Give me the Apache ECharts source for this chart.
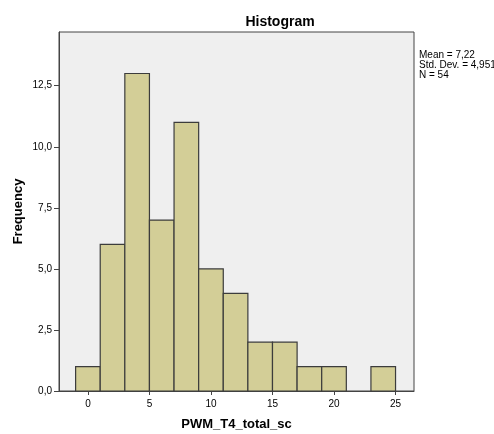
<!DOCTYPE html>
<html>
<head>
<meta charset="utf-8">
<script src="https://cdn.jsdelivr.net/npm/echarts@6/dist/echarts.min.js"></script>
<style>
html, body { margin: 0; padding: 0; background: #fff; }
#main { width: 494px; height: 434px; }
</style>
</head>
<body>
<div id="main"></div>
<script>
// bin edges (width 2) and counts
var binStart = [-1, 1, 3, 5, 7, 9, 11, 13, 15, 17, 19, 21, 23];
var binEnd   = [1, 3, 5, 7, 9, 11, 13, 15, 17, 19, 21, 23, 25];
var counts   = [1, 6, 13, 7, 11, 5, 4, 2, 2, 1, 1, 0, 1];
var xTicks   = [0, 5, 10, 15, 20, 25];
var yTicks   = [0, 2.5, 5, 7.5, 10, 12.5];
var statLines = ['Mean = 7,22', 'Std. Dev. = 4,951', 'N = 54'];

var chart = echarts.init(document.getElementById('main'));

var data = binStart.map(function (s, i) {
    return [s, binEnd[i], counts[i]];
});

function commaFmt(v) {
    return v.toFixed(1).replace('.', ',');
}

var option = {
    backgroundColor: '#fff',
    animation: false,
    textStyle: { fontFamily: 'Liberation Sans, Arial, sans-serif' },
    title: {
        text: 'Histogram',
        left: 275,
        top: 10,
        textAlign: 'center',
        textStyle: { fontSize: 14, fontWeight: 'bold', color: '#000' }
    },
    grid: {
        left: 59, top: 32, right: 80, bottom: 43,
        outerBoundsMode: 'none',
        show: true,
        backgroundColor: '#efefef',
        borderColor: '#444',
        borderWidth: 1
    },
    xAxis: {
        type: 'value',
        min: -2.35,
        max: 26.5,
        name: 'PWM_T4_total_sc',
        nameLocation: 'middle',
        nameGap: 27,
        nameMoveOverlap: false,
        nameTextStyle: { fontSize: 13, fontWeight: 'bold', color: '#000' },
        axisLine: { show: true, onZero: false, lineStyle: { color: '#444' } },
        axisTick: { show: true, length: 4, customValues: xTicks, lineStyle: { color: '#444' } },
        axisLabel: {
            fontSize: 10, color: '#000', margin: 8,
            customValues: xTicks
        },
        splitLine: { show: false }
    },
    yAxis: {
        type: 'value',
        min: 0,
        max: 14.7,
        name: 'Frequency',
        nameLocation: 'middle',
        nameGap: 34,
        nameMoveOverlap: false,
        nameTextStyle: { fontSize: 13, fontWeight: 'bold', color: '#000' },
        axisLine: { show: true, onZero: false, lineStyle: { color: '#444' } },
        axisTick: { show: true, length: 5, customValues: yTicks, lineStyle: { color: '#444' } },
        axisLabel: {
            fontSize: 10, color: '#000', margin: 7,
            customValues: yTicks,
            formatter: function (v) { return commaFmt(v); }
        },
        splitLine: { show: false }
    },
    graphic: [{
        type: 'text',
        left: 419,
        top: 50,
        style: {
            text: statLines.join('\n'),
            fontSize: 10,
            lineHeight: 10,
            fill: '#000',
            fontFamily: 'Liberation Sans, Arial, sans-serif'
        }
    }],
    series: [{
        type: 'custom',
        data: data,
        encode: { x: [0, 1], y: 2 },
        renderItem: function (params, api) {
            var h = api.value(2);
            if (!h) return null;
            var p0 = api.coord([api.value(0), h]);
            var p1 = api.coord([api.value(1), 0]);
            return {
                type: 'rect',
                shape: { x: p0[0], y: p0[1], width: p1[0] - p0[0], height: p1[1] - p0[1] },
                style: { fill: '#d3ce97', stroke: '#3c3c3c', lineWidth: 1.2 }
            };
        }
    }]
};

chart.setOption(option);
</script>
</body>
</html>
